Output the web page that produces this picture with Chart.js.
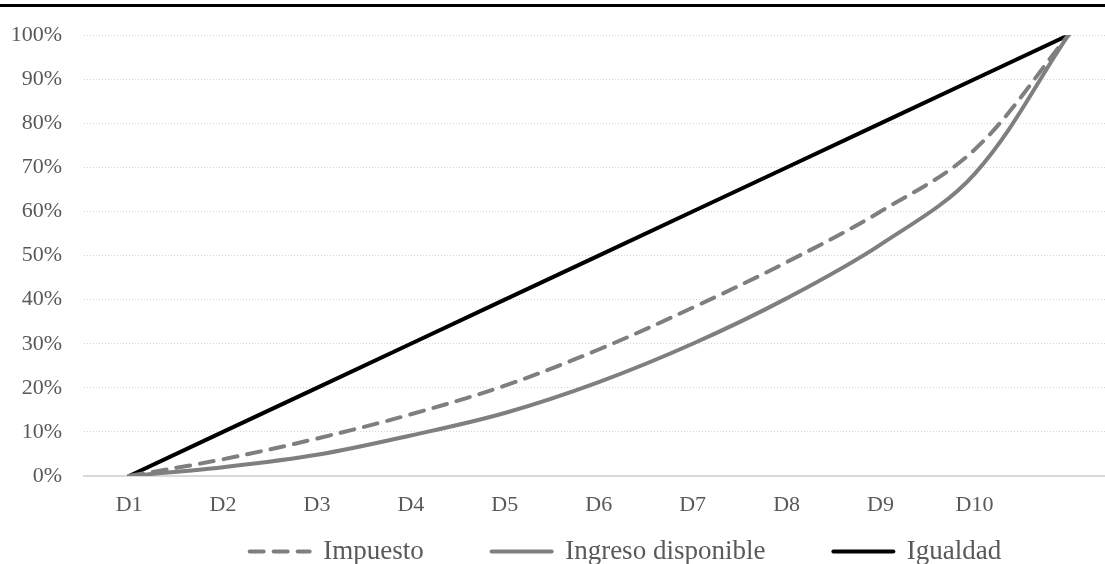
<!DOCTYPE html>
<html>
<head>
<meta charset="utf-8">
<script src="https://cdn.jsdelivr.net/npm/chart.js@4.4.1/dist/chart.umd.min.js"></script>
<style>
  html, body { margin: 0; padding: 0; background: #fff; overflow: hidden; }
  #wrap { position: relative; width: 1105px; height: 564px; overflow: hidden; }
  #chart { position: absolute; left: 0; top: 0; }
  #topRule { position: absolute; left: 0; top: 4px; width: 1105px; height: 3px; background: #000; }
</style>
</head>
<body>
<div id="wrap">
  <canvas id="chart" width="1105" height="631"></canvas>
  <div id="topRule"></div>
</div>
<script>
// deciles (last point has no label)
const deciles = ['D1', 'D2', 'D3', 'D4', 'D5', 'D6', 'D7', 'D8', 'D9', 'D10', ''];
const impuesto = [0, 3.8, 8.5, 14, 20.5, 28.7, 38.2, 48.5, 60, 74, 100];
const ingresoDisponible = [0, 2, 4.8, 9.2, 14.3, 21.3, 30, 40.3, 52.5, 68.5, 100];
const igualdad = [0, 10, 20, 30, 40, 50, 60, 70, 80, 90, 100];
const yTicks = [0, 10, 20, 30, 40, 50, 60, 70, 80, 90, 100];

const textColor = '#595959';
const lineGray = '#7f7f7f';
const axisFont = { family: '"Liberation Serif", "Times New Roman", serif', size: 22 };
const legendFont = { family: '"Liberation Serif", "Times New Roman", serif', size: 27 };

const toPoints = (arr) => arr.map((v, i) => ({ x: i, y: v }));

// the canvas is taller than the window; pull the legend up into view
// and to the right, where the original puts it
const legendShift = {
  id: 'legendShift',
  afterLayout(chart) {
    const lg = chart.legend;
    if (!lg) return;
    lg.left += 73; lg.right += 73;
    lg.top -= 56; lg.bottom -= 56;
  }
};

const ctx = document.getElementById('chart').getContext('2d');
new Chart(ctx, {
  type: 'line',
  data: {
    datasets: [
      {
        label: 'Impuesto',
        data: toPoints(impuesto),
        borderColor: lineGray,
        borderWidth: 4,
        borderDash: [14, 10],
        borderCapStyle: 'round',
        tension: 0.35,
        pointRadius: 0
      },
      {
        label: 'Ingreso disponible',
        data: toPoints(ingresoDisponible),
        borderColor: lineGray,
        borderWidth: 4,
        borderCapStyle: 'round',
        tension: 0.35,
        pointRadius: 0
      },
      {
        label: 'Igualdad',
        data: toPoints(igualdad),
        borderColor: '#000000',
        borderWidth: 4,
        borderCapStyle: 'round',
        tension: 0,
        pointRadius: 0
      }
    ]
  },
  plugins: [legendShift],
  options: {
    responsive: false,
    animation: false,
    layout: { padding: { top: 18, right: 0, left: 0, bottom: 0 } },
    plugins: {
      tooltip: { enabled: false },
      legend: {
        position: 'bottom',
        labels: {
          usePointStyle: true,
          pointStyleWidth: 60,
          boxHeight: 27,
          color: textColor,
          font: legendFont,
          padding: 68,
          generateLabels: (chart) => chart.data.datasets.map((ds, i) => ({
            text: ds.label,
            datasetIndex: i,
            pointStyle: 'line',
            strokeStyle: ds.borderColor,
            fillStyle: ds.borderColor,
            lineWidth: 4,
            lineDash: ds.borderDash || [],
            lineCap: 'round',
            fontColor: textColor,
            hidden: false
          }))
        }
      }
    },
    scales: {
      x: {
        type: 'linear',
        min: -0.48,
        max: 10.39,
        afterBuildTicks: (scale) => {
          scale.ticks = deciles.map((_, i) => ({ value: i }));
        },
        afterFit: (scale) => { scale.height = 50; },
        ticks: {
          autoSkip: false,
          maxRotation: 0,
          padding: 16,
          color: textColor,
          font: axisFont,
          callback: (v) => deciles[v] ?? ''
        },
        grid: { display: false, drawTicks: false },
        border: { display: true, color: '#d9d9d9', width: 2 }
      },
      y: {
        min: 0,
        max: 100,
        afterBuildTicks: (scale) => {
          scale.ticks = yTicks.map((v) => ({ value: v }));
        },
        afterFit: (scale) => { scale.width = 84; },
        ticks: {
          padding: 22,
          color: textColor,
          font: axisFont,
          callback: (v) => v + '%'
        },
        grid: {
          drawTicks: false,
          color: (c) => c.tick && c.tick.value === 0 ? 'rgba(0,0,0,0)' : '#d4d4d4',
          lineWidth: 1
        },
        border: { display: false, dash: [1, 2] }
      }
    }
  }
});
</script>
</body>
</html>
